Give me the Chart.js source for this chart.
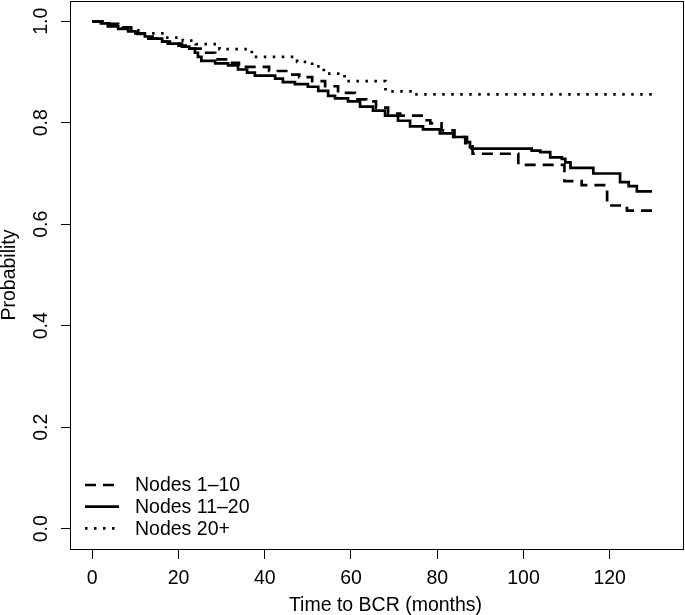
<!DOCTYPE html>
<html>
<head>
<meta charset="utf-8">
<script src="https://cdn.jsdelivr.net/npm/chart.js@4.4.1/dist/chart.umd.min.js"></script>
<style>
  html, body { margin: 0; padding: 0; background: #fff; }
  canvas { display: block; }
</style>
</head>
<body>
<canvas id="kmChart" width="685" height="615"></canvas>
<script>
// Kaplan-Meier steps: time of each drop (months) and survival after it
var nodes1Time = [0, 3, 6, 9, 10.5, 13, 16, 17.5, 20, 22, 25.5, 28.5, 31, 34, 41, 45.8, 48, 51, 54, 57, 60.9, 63.5, 65.8, 68.6, 71.4, 76.8, 78.4, 81, 84, 86.5, 88.2, 98.8, 109.5, 113.5, 119.4, 124, 130];
var nodes1Surv = [1, 0.995, 0.988, 0.978, 0.975, 0.966, 0.960, 0.956, 0.952, 0.946, 0.938, 0.925, 0.918, 0.910, 0.902, 0.895, 0.890, 0.882, 0.872, 0.859, 0.846, 0.842, 0.830, 0.818, 0.814, 0.805, 0.799, 0.785, 0.772, 0.760, 0.739, 0.717, 0.685, 0.677, 0.637, 0.627, 0.627];

var nodes11Time = [0, 2, 3.6, 6, 8.3, 10, 12.2, 14, 16.2, 18, 20.8, 22.5, 23.8, 24.5, 25.3, 28.5, 31.5, 33.8, 35.9, 37.7, 42.4, 44.2, 47, 50, 52.4, 54.7, 56.3, 59.3, 62.1, 65.1, 67.9, 70.9, 73.7, 76.7, 80.6, 83.7, 86.9, 87.6, 88.0, 101.9, 103.9, 106.2, 108.9, 109.7, 110.9, 116.2, 122.4, 124.4, 126.3, 129.8];
var nodes11Surv = [1, 0.996, 0.990, 0.985, 0.980, 0.976, 0.970, 0.966, 0.960, 0.956, 0.950, 0.946, 0.938, 0.930, 0.922, 0.917, 0.913, 0.905, 0.899, 0.893, 0.887, 0.880, 0.876, 0.871, 0.863, 0.853, 0.848, 0.842, 0.832, 0.824, 0.814, 0.804, 0.793, 0.787, 0.779, 0.772, 0.762, 0.752, 0.749, 0.745, 0.742, 0.732, 0.729, 0.722, 0.711, 0.700, 0.683, 0.675, 0.665, 0.665];

var nodes20Time = [0, 4, 7, 9, 12, 17, 21, 24, 29.5, 37, 47.5, 51, 53.7, 58.5, 68, 74.6, 130];
var nodes20Surv = [1, 0.993, 0.988, 0.982, 0.976, 0.968, 0.962, 0.955, 0.945, 0.930, 0.920, 0.911, 0.897, 0.882, 0.862, 0.856, 0.856];

var seriesLabels = ['Nodes 1\u201310', 'Nodes 11\u201320', 'Nodes 20+'];
var xTicks = [0, 20, 40, 60, 80, 100, 120];
var yTicks = [0, 0.2, 0.4, 0.6, 0.8, 1.0];
var yTickLabels = ['0.0', '0.2', '0.4', '0.6', '0.8', '1.0'];
var xTitle = 'Time to BCR (months)';
var yTitle = 'Probability';

var FONT_FAMILY = '"Liberation Sans", Arial, Helvetica, sans-serif';
var FONT = '19.5px ' + FONT_FAMILY;

function toPoints(times, surv) {
  return times.map(function(t, i) { return { x: t, y: surv[i] }; });
}

// R-style box, rotated y labels, titles and the legend in the bottom-left corner
var rStylePlugin = {
  id: 'rStyle',
  afterDraw: function(chart) {
    var ctx = chart.ctx;
    var a = chart.chartArea;
    var ys = chart.scales.y;
    ctx.save();
    ctx.strokeStyle = '#000';
    ctx.lineWidth = 1;
    ctx.setLineDash([]);
    ctx.strokeRect(a.left + 0.5, a.top + 0.5, a.right - a.left, a.bottom - a.top);

    ctx.fillStyle = '#000';
    ctx.font = FONT;
    ctx.textAlign = 'center';
    ctx.textBaseline = 'alphabetic';
    yTicks.forEach(function(v, i) {
      ctx.save();
      ctx.translate(47, ys.getPixelForValue(v));
      ctx.rotate(-Math.PI / 2);
      ctx.fillText(yTickLabels[i], 0, 0);
      ctx.restore();
    });

    ctx.fillText(xTitle, (a.left + a.right) / 2 + 9, 611);
    ctx.save();
    ctx.translate(15, (a.top + a.bottom) / 2);
    ctx.rotate(-Math.PI / 2);
    ctx.fillText(yTitle, 0, 0);
    ctx.restore();

    // legend
    ctx.textAlign = 'left';
    ctx.textBaseline = 'middle';
    chart.data.datasets.forEach(function(ds, i) {
      var ly = a.bottom - 64 + i * 21.7;
      ctx.beginPath();
      ctx.lineWidth = ds.borderWidth;
      ctx.strokeStyle = ds.borderColor;
      ctx.setLineDash(ds.borderDash || []);
      ctx.moveTo(85, ly);
      ctx.lineTo(119, ly);
      ctx.stroke();
      ctx.setLineDash([]);
      ctx.fillText(ds.label, 135, ly + 1);
    });
    ctx.restore();
  }
};

var ctx = document.getElementById('kmChart').getContext('2d');
var chart = new Chart(ctx, {
  type: 'line',
  data: {
    datasets: [{
      label: seriesLabels[0],
      data: toPoints(nodes1Time, nodes1Surv),
      borderColor: '#000',
      borderWidth: 2.7,
      borderDash: [11, 7],
      stepped: true,
      pointRadius: 0,
      fill: false
    }, {
      label: seriesLabels[1],
      data: toPoints(nodes11Time, nodes11Surv),
      borderColor: '#000',
      borderWidth: 2.7,
      stepped: true,
      pointRadius: 0,
      fill: false
    }, {
      label: seriesLabels[2],
      data: toPoints(nodes20Time, nodes20Surv),
      borderColor: '#000',
      borderWidth: 2.7,
      borderDash: [2.5, 6.5],
      stepped: true,
      pointRadius: 0,
      fill: false
    }]
  },
  options: {
    responsive: false,
    animation: false,
    layout: { padding: { top: 1, right: 2, left: 0, bottom: 0 } },
    plugins: {
      legend: { display: false },
      tooltip: { enabled: false }
    },
    scales: {
      x: {
        type: 'linear',
        min: -5.17,
        max: 137,
        afterBuildTicks: function(scale) {
          scale.ticks = xTicks.map(function(v) { return { value: v }; });
        },
        afterFit: function(scale) { scale.height = 66; },
        border: { display: false },
        grid: { drawOnChartArea: false, drawTicks: true, tickLength: 10, color: '#000', lineWidth: 1 },
        ticks: {
          color: '#000',
          font: { family: FONT_FAMILY, size: 19.5 },
          padding: 8,
          maxRotation: 0,
          autoSkip: false
        }
      },
      y: {
        type: 'linear',
        min: -0.04,
        max: 1.04,
        afterBuildTicks: function(scale) {
          scale.ticks = yTicks.map(function(v) { return { value: v }; });
        },
        afterFit: function(scale) { scale.width = 70; },
        border: { display: false },
        grid: { drawOnChartArea: false, drawTicks: true, tickLength: 9, color: '#000', lineWidth: 1 },
        ticks: { display: false }
      }
    }
  },
  plugins: [rStylePlugin]
});
</script>
</body>
</html>
